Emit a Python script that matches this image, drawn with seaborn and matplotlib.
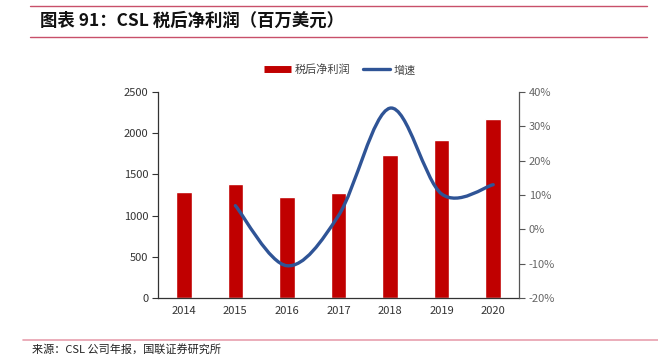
import numpy as np
import pandas as pd
import matplotlib
matplotlib.use("Agg")
import matplotlib.pyplot as plt
import seaborn as sns
from matplotlib.path import Path
from matplotlib.patches import PathPatch
from matplotlib.lines import Line2D

# ---- data ----
years = ["2014", "2015", "2016", "2017", "2018", "2019", "2020"]
profit = [1281, 1379, 1229, 1278, 1735, 1917, 2172]          # 税后净利润（百万美元）
growth_years = ["2015", "2016", "2017", "2018", "2019", "2020"]
growth = [6.9, -10.6, 4.0, 35.3, 10.3, 13.0]                  # 增速 (%)

df = pd.DataFrame({"year": years, "profit": profit})

sns.set_theme(style="white")
plt.rcParams["font.family"] = ["Noto Sans CJK SC", "DejaVu Sans"]
plt.rcParams["axes.unicode_minus"] = True

fig = plt.figure(figsize=(6.58, 3.57), dpi=100)
ax = fig.add_axes([158 / 658, 1 - 298 / 357, 361 / 658, 206 / 357])

sns.barplot(data=df, x="year", y="profit", color="#C00000", width=0.3,
            saturation=1, ax=ax)
ax.set_xlim(-0.5, 6.5)
ax.set_ylim(0, 2500)
ax.set_yticks(range(0, 2501, 500))
ax.set_xlabel("")
ax.set_ylabel("")

# category axis: ticks between categories
ax.set_xticks(np.arange(-0.5, 7, 1), minor=True)
ax.tick_params(axis="x", which="major", length=0, pad=6, labelsize=8, labelcolor="#333333")
ax.tick_params(axis="x", which="minor", length=4, width=0.8, color="#333333", direction="out")
ax.tick_params(axis="y", length=4, width=0.8, color="#333333", direction="out",
               labelsize=8, labelcolor="#333333", left=True, pad=3)
for side in ["top", "right"]:
    ax.spines[side].set_visible(False)
for side in ["left", "bottom"]:
    ax.spines[side].set_color("#333333")
    ax.spines[side].set_linewidth(0.9)

# growth line on the right axis, smoothed like the original (Bezier through points)
ax2 = ax.twinx()
ax2.set_ylim(-20, 40)
ax2.set_yticks(range(-20, 41, 10))
ax2.set_yticklabels([f"{v}%" for v in range(-20, 41, 10)])
ax2.tick_params(axis="y", length=4, width=0.8, color="#555555", direction="out",
                labelsize=8, labelcolor="#666666", right=True, pad=3)
for side in ["top", "left", "bottom"]:
    ax2.spines[side].set_visible(False)
ax2.spines["right"].set_color("#555555")
ax2.spines["right"].set_linewidth(0.9)
ax2.grid(False)
ax.grid(False)

xs = np.array([years.index(y) for y in growth_years], dtype=float)
ys = np.array(growth, dtype=float)
pts = np.column_stack([xs, ys])
ext = np.vstack([pts[0], pts, pts[-1]])
verts = [tuple(pts[0])]
codes = [Path.MOVETO]
for i in range(len(pts) - 1):
    p0, p1, p2, p3 = ext[i], ext[i + 1], ext[i + 2], ext[i + 3]
    c1 = p1 + (p2 - p0) / 6
    c2 = p2 - (p3 - p1) / 6
    verts += [tuple(c1), tuple(c2), tuple(p2)]
    codes += [Path.CURVE4] * 3
ax2.add_patch(PathPatch(Path(verts, codes), facecolor="none",
                        edgecolor="#2F5496", linewidth=2.4, capstyle="round"))

# legend
handles = [Line2D([], [], color="#C00000", lw=5, solid_capstyle="butt"),
           Line2D([], [], color="#2F5496", lw=2.4)]
fig.legend(handles, ["税后净利润", "增速"], loc="center",
           bbox_to_anchor=(340 / 658, 1 - 70 / 357), ncol=2, frameon=False,
           fontsize=8, handlelength=2.4, handletextpad=0.3, columnspacing=1.2,
           labelcolor="#444444")

# title, rules and source
fig.text(40 / 658, 1 - 21 / 357, "图表 91：CSL 税后净利润（百万美元）",
         fontsize=12.5, fontweight="bold", style="italic", va="center", ha="left",
         color="#111111")
fig.add_artist(Line2D([30 / 658, 647 / 658], [1 - 5.5 / 357] * 2,
                      color="#C8506A", lw=1.0, transform=fig.transFigure))
fig.add_artist(Line2D([30 / 658, 647 / 658], [1 - 37 / 357] * 2,
                      color="#C8506A", lw=1.0, transform=fig.transFigure))
fig.add_artist(Line2D([23 / 658, 1.0], [1 - 340 / 357] * 2,
                      color="#E8A0AE", lw=1.2, transform=fig.transFigure))
fig.text(32 / 658, 1 - 349.5 / 357, "来源：CSL 公司年报，国联证券研究所",
         fontsize=8, va="center", ha="left", color="#222222")

fig.savefig("out.png", dpi=100)
plt.close(fig)
